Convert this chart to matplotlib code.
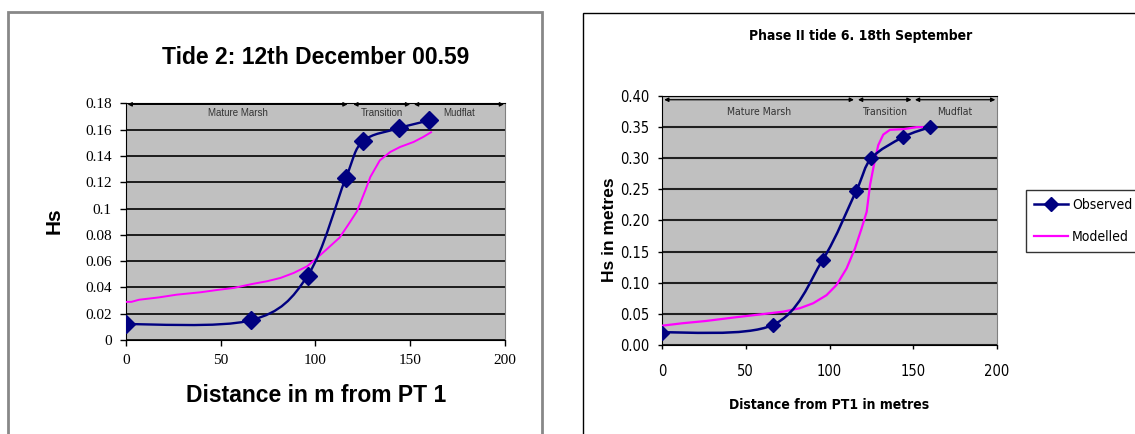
import numpy as np
import matplotlib
matplotlib.use("Agg")
import matplotlib.pyplot as plt
from matplotlib.path import Path
from matplotlib.patches import PathPatch, Rectangle
from matplotlib.lines import Line2D
from matplotlib.font_manager import FontProperties

# ---- data: tide 2 (12th December 00.59) ----
obs_x = [0, 66, 96, 116, 125, 144, 160]
tide2_obs = [0.012, 0.015, 0.049, 0.123, 0.151, 0.161, 0.167]
tide2_mod_x = [0, 3, 7, 17.5, 27, 39.5, 48, 57, 66.7, 74.6, 81.6, 88.6, 95.6, 100,
               106, 112.8, 117.5, 122, 126.3, 129, 134, 139.5, 144.7, 151.8, 157, 161]
tide2_mod = [0.029, 0.029, 0.0306, 0.0324, 0.0345, 0.0363, 0.038, 0.0396, 0.0426, 0.0447,
             0.0472, 0.051, 0.056, 0.0613, 0.069, 0.0779, 0.088, 0.098, 0.1136, 0.124,
             0.1366, 0.143, 0.1468, 0.1506, 0.1545, 0.158]

# ---- data: phase II tide 6 (18th September) ----
tide6_obs = [0.020, 0.032, 0.137, 0.248, 0.300, 0.334, 0.350]
tide6_mod_x = [0, 12.4, 26.3, 42.3, 58.3, 72.3, 82.2, 90.2, 98.2, 104.2, 110.2, 115.2,
               119.2, 122.2, 124.2, 126.5, 129.1, 132.1, 136.1, 144.1, 152.1, 160]
tide6_mod = [0.031, 0.035, 0.0386, 0.044, 0.049, 0.0536, 0.059, 0.067, 0.080, 0.0965,
             0.123, 0.155, 0.1876, 0.214, 0.257, 0.289, 0.321, 0.338, 0.3457, 0.3467,
             0.350, 0.350]

# zones along the transect (start, end, label)
zones_t2 = [(1, 117, "Mature Marsh"), (120, 150, "Transition"), (152, 199.5, "Mudflat")]
zones_t6 = [(1.3, 114.6, "Mature Marsh"), (117, 149, "Transition"), (151, 199, "Mudflat")]

NAVY = "#000080"
MAGENTA = "#FF00FF"
PLOT_BG = "#C0C0C0"
SANS = ["Liberation Sans", "DejaVu Sans"]
SERIF = ["Liberation Serif", "DejaVu Serif"]

W, H = 1135, 434


def narrow(size, weight="normal"):
    return FontProperties(family="DejaVu Sans", stretch="condensed", size=size, weight=weight)


def smooth_path(xs, ys):
    # excel-style smoothed line: cubic bezier through every point
    p = np.column_stack([xs, ys]).astype(float)
    n = len(p)
    verts = [p[0]]
    codes = [Path.MOVETO]
    for i in range(n - 1):
        p0 = p[i - 1] if i > 0 else p[i]
        p3 = p[i + 2] if i + 2 < n else p[i + 1]
        c1 = p[i] + (p[i + 1] - p0) / 6.0
        c2 = p[i + 1] - (p3 - p[i]) / 6.0
        verts += [c1, c2, p[i + 1]]
        codes += [Path.CURVE4] * 3
    return Path(verts, codes)


def px_axes(fig, left, top, right, bottom):
    return fig.add_axes([left / W, 1 - bottom / H, (right - left) / W, (bottom - top) / H])


fig = plt.figure(figsize=(W / 100, H / 100), dpi=100)
fig.patch.set_facecolor("white")

# chart borders
fig.patches.append(Rectangle((8 / W, -0.1), (542 - 8) / W, (H - 12) / H + 0.1,
                             transform=fig.transFigure, fill=False, ec="#888888", lw=2))
fig.patches.append(Rectangle((583 / W, -0.1), 1.0, (H - 13) / H + 0.1,
                             transform=fig.transFigure, fill=False, ec="black", lw=1))

# ---------- left chart ----------
ax1 = px_axes(fig, 125.7, 103.3, 505, 340)
ax1.set_facecolor(PLOT_BG)
ax1.set_xlim(0, 200)
ax1.set_ylim(0, 0.18)
ax1.set_xticks([0, 50, 100, 150, 200])
ax1.set_yticks(np.arange(0, 0.181, 0.02))
ax1.set_yticklabels(["0", "0.02", "0.04", "0.06", "0.08", "0.1", "0.12", "0.14", "0.16", "0.18"])
ax1.yaxis.grid(True, color="black", lw=1.2)
ax1.set_axisbelow(True)
ax1.tick_params(direction="out", length=4, width=1, pad=6, labelsize=11)
for lab in ax1.get_xticklabels() + ax1.get_yticklabels():
    lab.set_family(SERIF)
for s in ["left", "bottom", "top"]:
    ax1.spines[s].set_color("black")
ax1.spines["right"].set_color("#808080")

ax1.plot(tide2_mod_x, tide2_mod, color=MAGENTA, lw=1.4, zorder=3)
ax1.add_patch(PathPatch(smooth_path(obs_x, tide2_obs), fill=False, ec=NAVY, lw=1.7, zorder=4))
ax1.plot(obs_x, tide2_obs, linestyle="none", marker="D", ms=9, color=NAVY, zorder=5)

for x0, x1, name in zones_t2:
    ax1.annotate("", xy=(x1, 0.1792), xytext=(x0, 0.1792),
                 arrowprops=dict(arrowstyle="<|-|>", color="black", lw=0.9,
                                 mutation_scale=6, shrinkA=0, shrinkB=0), zorder=6)
    ax1.text((x0 + x1) / 2, 0.1725, name, ha="center", va="center", fontsize=7,
             color="#333333", family=SANS)

fig.text(316 / W, 1 - 57.3 / H, "Tide 2: 12th December 00.59", ha="center", va="center",
         fontsize=16.5, fontweight="bold", family=SANS)
fig.text(316 / W, 1 - 395 / H, "Distance in m from PT 1", ha="center", va="center",
         fontsize=16.5, fontweight="bold", family=SANS)
fig.text(54 / W, 1 - 221 / H, "Hs", ha="center", va="center", rotation=90,
         fontsize=15, fontweight="bold", family=SANS)

# ---------- right chart ----------
ax2 = px_axes(fig, 662, 96, 997, 345)
ax2.set_facecolor(PLOT_BG)
ax2.set_xlim(0, 200)
ax2.set_ylim(0, 0.40)
ax2.set_xticks([0, 50, 100, 150, 200])
ax2.set_yticks(np.arange(0, 0.401, 0.05))
ax2.yaxis.set_major_formatter(matplotlib.ticker.FormatStrFormatter("%.2f"))
ax2.yaxis.grid(True, color="#202020", lw=1.5)
ax2.set_axisbelow(True)
ax2.tick_params(direction="out", length=3, width=1)
ax2.tick_params(axis="x", pad=11)
ax2.tick_params(axis="y", pad=6)
for lab in ax2.get_xticklabels() + ax2.get_yticklabels():
    lab.set_fontproperties(narrow(10.5))
for s in ["left", "bottom", "top"]:
    ax2.spines[s].set_color("black")
ax2.spines["right"].set_color("#808080")

ax2.plot(tide6_mod_x, tide6_mod, color=MAGENTA, lw=1.6, zorder=3)
ax2.add_patch(PathPatch(smooth_path(obs_x, tide6_obs), fill=False, ec=NAVY, lw=1.8, zorder=4))
ax2.plot(obs_x, tide6_obs, linestyle="none", marker="D", ms=7, color=NAVY, zorder=5)

for x0, x1, name in zones_t6:
    ax2.annotate("", xy=(x1, 0.394), xytext=(x0, 0.394),
                 arrowprops=dict(arrowstyle="<|-|>", color="black", lw=0.9,
                                 mutation_scale=6, shrinkA=0, shrinkB=0), zorder=6)
    ax2.text((x0 + x1) / 2, 0.375, name, ha="center", va="center",
             color="#333333", fontproperties=narrow(7.5))

fig.text(860.6 / W, 1 - 35.7 / H, "Phase II tide 6. 18th September", ha="center", va="center",
         fontproperties=narrow(10, "bold"))
fig.text(829 / W, 1 - 405 / H, "Distance from PT1 in metres", ha="center", va="center",
         fontproperties=narrow(10, "bold"))
fig.text(609.6 / W, 1 - 230 / H, "Hs in metres", ha="center", va="center", rotation=90,
         fontsize=12.5, fontweight="bold", family=SANS)

handles = [Line2D([], [], color=NAVY, lw=1.8, marker="D", ms=7),
           Line2D([], [], color=MAGENTA, lw=1.6)]
leg = fig.legend(handles, ["Observed", "Modelled"], loc="upper left",
                 bbox_to_anchor=(1026 / W, 1 - 190 / H), frameon=True, fancybox=False,
                 edgecolor="black", handlelength=2.4, handletextpad=0.3, labelspacing=1.25,
                 borderpad=0.6, borderaxespad=0, prop=narrow(10))
leg.get_frame().set_linewidth(1)

fig.savefig("out.png", dpi=100)
